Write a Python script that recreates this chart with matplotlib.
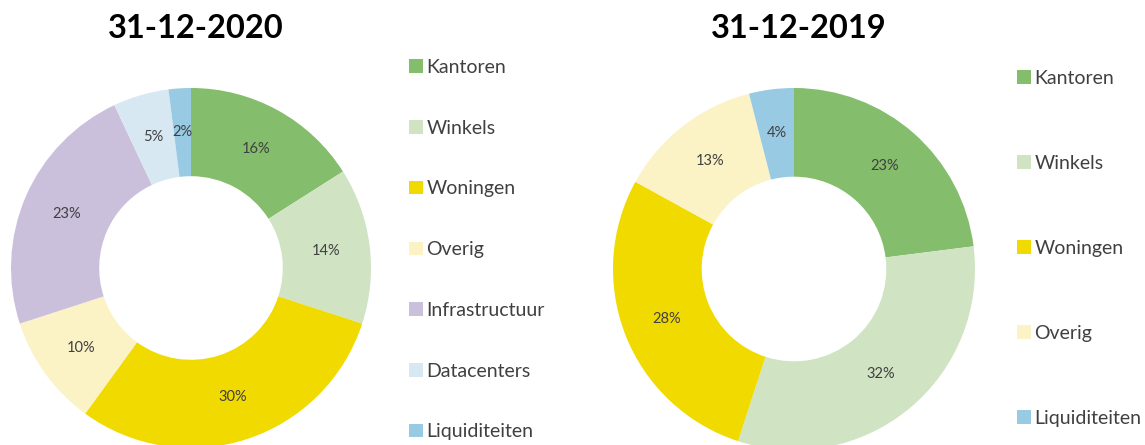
import matplotlib

matplotlib.use("Agg")
import matplotlib.pyplot as plt
from matplotlib.patches import Patch

plt.rcParams["font.family"] = ["Lato", "DejaVu Sans"]

# data
cats_2020 = ["Kantoren", "Winkels", "Woningen", "Overig", "Infrastructuur",
             "Datacenters", "Liquiditeiten"]
vals_2020 = [16, 14, 30, 10, 23, 5, 2]
cats_2019 = ["Kantoren", "Winkels", "Woningen", "Overig", "Liquiditeiten"]
vals_2019 = [23, 32, 28, 13, 4]

colors = {
    "Kantoren": "#84bd6c",
    "Winkels": "#d0e4c4",
    "Woningen": "#f0da00",
    "Overig": "#fbf3c6",
    "Infrastructuur": "#cbc0db",
    "Datacenters": "#d8e8f2",
    "Liquiditeiten": "#98cbe3",
}
TEXT = "#404040"

W, H = 1145, 445
fig = plt.figure(figsize=(W / 100, H / 100), dpi=100)


def donut(cx, cy, r, cats, vals, title, legend_x, legend_top, legend_bottom):
    ax = fig.add_axes([(cx - r) / W, (H - cy - r) / H, 2 * r / W, 2 * r / H])
    cols = [colors[c] for c in cats]
    ax.pie(vals, colors=cols, startangle=90, counterclock=False,
           radius=1.0, wedgeprops=dict(width=0.49, linewidth=0),
           autopct="%d%%", pctdistance=0.755,
           textprops=dict(fontsize=10.5, color=TEXT))
    ax.set_xlim(-1, 1)
    ax.set_ylim(-1, 1)
    ax.set_aspect("equal")
    ax.axis("off")
    fig.text((cx + 5) / W, 1 - 28 / H, title, ha="center", va="center",
             fontsize=23.5, fontweight="bold", color="black")
    handles = [Patch(facecolor=colors[c], edgecolor="none") for c in cats]
    n = len(cats)
    fs = 14
    fs_px = fs * 100 / 72
    gap_px = (legend_bottom - legend_top) / (n - 1)
    spacing = (gap_px - 0.88 * fs_px) / fs_px
    leg = fig.legend(handles, cats, loc="upper left",
                     bbox_to_anchor=(legend_x / W, 1 - (legend_top - 8) / H),
                     frameon=False, fontsize=fs, labelspacing=spacing,
                     handlelength=0.7, handleheight=0.7, handletextpad=0.2,
                     borderpad=0, borderaxespad=0)
    for t in leg.get_texts():
        t.set_color(TEXT)
    return ax


donut(191, 268, 180, cats_2020, vals_2020, "31-12-2020", 409, 67, 432)
donut(794, 269, 181, cats_2019, vals_2019, "31-12-2019", 1017, 78, 418)

fig.savefig("out.png", dpi=100)
